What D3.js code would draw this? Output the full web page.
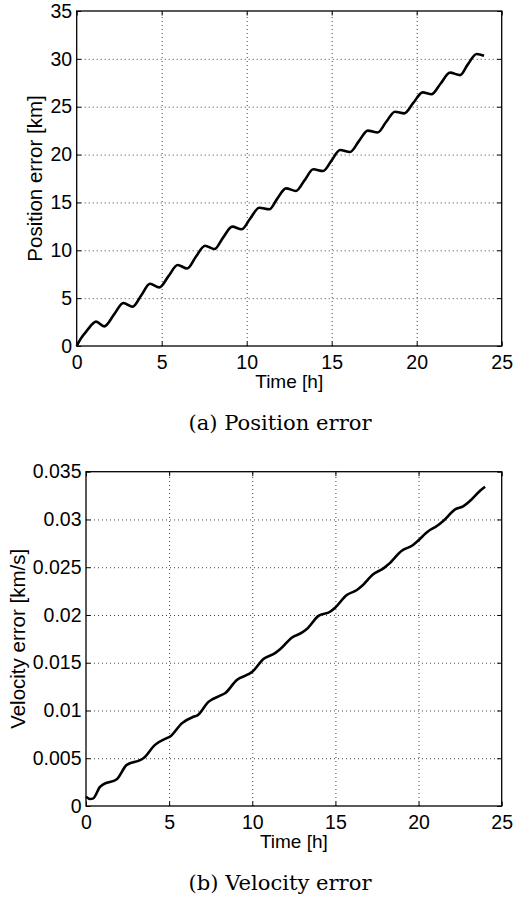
<!DOCTYPE html>
<meta charset="utf-8">
<head>
  <style>
    body { margin: 0; background: #fff; }
    .tick text { font-family: "Liberation Sans", Arial, sans-serif; font-size: 19.5px; fill: #000; }
  </style>
  <script src="https://cdn.jsdelivr.net/npm/d3@7"></script>
</head>
<body>
<script>
  // x ticks shared by both panels
  const xTicks = [0, 5, 10, 15, 20, 25];

  // (a) position error, km
  const posTime = [0, 0.25, 0.6, 1.14, 1.62, 2.2, 2.74, 3.29, 3.8, 4.31, 4.86, 5.4, 5.94, 6.5, 7.0, 7.55, 8.1, 8.6,
    9.15, 9.7, 10.2, 10.74, 11.33, 11.8, 12.31, 12.9, 13.4, 13.92, 14.5, 15.0, 15.49, 16.08, 16.6, 17.12, 17.7,
    18.2, 18.72, 19.26, 19.8, 20.35, 20.87, 21.4, 21.96, 22.55, 23.0, 23.53, 23.96];
  const posErr = [0, 0.8, 1.6, 2.55, 2.05, 3.3, 4.5, 4.1, 5.3, 6.5, 6.13, 7.3, 8.46, 8.1, 9.3, 10.48, 10.13, 11.3,
    12.47, 12.19, 13.3, 14.45, 14.28, 15.4, 16.47, 16.2, 17.3, 18.46, 18.28, 19.4, 20.48, 20.27, 21.4, 22.5, 22.3,
    23.4, 24.48, 24.3, 25.4, 26.5, 26.3, 27.4, 28.56, 28.3, 29.4, 30.5, 30.33];
  const posTicks = [0, 5, 10, 15, 20, 25, 30, 35];

  // (b) velocity error, km/s
  const velTime = [0, 0.24, 0.44, 0.84, 1.04, 1.85, 2.45, 3.25, 3.45, 4.15, 4.85, 5.05, 5.76, 6.46, 6.7, 7.36, 8.06,
    8.36, 9.07, 9.77, 10.0, 10.67, 11.37, 11.67, 12.37, 12.98, 13.28, 13.98, 14.68, 14.98, 15.68, 16.29, 16.59,
    17.29, 17.89, 18.19, 18.99, 19.6, 19.9, 20.6, 21.1, 21.5, 22.2, 22.7, 23.1, 23.7, 24.0];
  const velErr = [0.00098, 0.00073, 0.0008, 0.002, 0.00227, 0.0028, 0.0043, 0.0048, 0.005, 0.0064, 0.0071, 0.00726,
    0.00865, 0.00935, 0.0095, 0.0109, 0.01155, 0.0118, 0.0132, 0.0138, 0.01406, 0.01539, 0.016, 0.0164, 0.01762,
    0.01815, 0.01853, 0.0199, 0.02034, 0.02076, 0.02209, 0.02261, 0.02303, 0.02429, 0.02488, 0.0253, 0.02673,
    0.02725, 0.02767, 0.02879, 0.02931, 0.02987, 0.03106, 0.0314, 0.03196, 0.03301, 0.03343];
  const velTicks = [0, 0.005, 0.01, 0.015, 0.02, 0.025, 0.03, 0.035];

  const svg = d3.select("body").append("svg")
    .attr("width", 513)
    .attr("height", 901)
    .style("background", "#fff");

  function panel(o) {
    const x = d3.scaleLinear().domain([0, 25]).range([o.left, o.right]);
    const y = d3.scaleLinear().domain([0, o.yMax]).range([o.bottom, o.top]);
    const g = svg.append("g");
    const w = o.right - o.left, h = o.bottom - o.top;

    // dotted grid
    g.append("g")
      .attr("transform", `translate(0,${o.bottom})`)
      .call(d3.axisBottom(x).tickValues(xTicks.slice(1, -1)).tickSize(-h).tickFormat(""))
      .call(a => a.select(".domain").remove());
    g.append("g")
      .attr("transform", `translate(${o.left},0)`)
      .call(d3.axisLeft(y).tickValues(o.yTicks.slice(1, -1)).tickSize(-w).tickFormat(""))
      .call(a => a.select(".domain").remove());
    g.selectAll(".tick line")
      .attr("stroke", "#444")
      .attr("stroke-dasharray", "1,3");

    // inward ticks on all four sides + labels
    const tk = 4.5;
    g.append("g").attr("transform", `translate(0,${o.bottom})`)
      .call(d3.axisBottom(x).tickValues(xTicks).tickSize(-tk).tickFormat(d3.format("d")))
      .call(a => a.select(".domain").remove())
      .call(a => a.selectAll("text").attr("dy", "0.71em").attr("y", 9));
    g.append("g").attr("transform", `translate(0,${o.top})`)
      .call(d3.axisTop(x).tickValues(xTicks).tickSize(-tk).tickFormat(""))
      .call(a => a.select(".domain").remove());
    g.append("g").attr("transform", `translate(${o.left},0)`)
      .call(d3.axisLeft(y).tickValues(o.yTicks).tickSize(-tk).tickFormat(o.fmt))
      .call(a => a.select(".domain").remove())
      .call(a => a.selectAll("text").attr("x", -4.5));
    g.append("g").attr("transform", `translate(${o.right},0)`)
      .call(d3.axisRight(y).tickValues(o.yTicks).tickSize(-tk).tickFormat(""))
      .call(a => a.select(".domain").remove());
    g.selectAll(".tick line:not([stroke-dasharray])").attr("stroke", "#000");

    g.append("rect")
      .attr("x", o.left).attr("y", o.top)
      .attr("width", w).attr("height", h)
      .attr("fill", "none").attr("stroke", "#000").attr("stroke-width", 1.3);

    const line = d3.line()
      .x((d, i) => x(o.t[i]))
      .y(d => y(d))
      .curve(d3.curveMonotoneX);
    g.append("path")
      .attr("d", line(o.v))
      .attr("fill", "none")
      .attr("stroke", "#000")
      .attr("stroke-width", 2.6)
      .attr("stroke-linejoin", "round");

    g.append("text")
      .attr("x", (o.left + o.right) / 2)
      .attr("y", o.bottom + 42)
      .attr("text-anchor", "middle")
      .style("font-family", "Liberation Sans, Arial, sans-serif")
      .style("font-size", "19px")
      .text("Time [h]");

    g.append("text")
      .attr("transform", `translate(${o.ylabX},${(o.top + o.bottom) / 2}) rotate(-90)`)
      .attr("text-anchor", "middle")
      .style("font-family", "Liberation Sans, Arial, sans-serif")
      .style("font-size", "20.5px")
      .text(o.ylab);

    g.append("text")
      .attr("x", 280)
      .attr("y", o.bottom + 84)
      .attr("text-anchor", "middle")
      .attr("textLength", 183)
      .attr("lengthAdjust", "spacingAndGlyphs")
      .style("font-family", "DejaVu Serif, serif")
      .style("font-size", "19.5px")
      .text(o.caption);
  }

  panel({
    left: 76.7, right: 501.7, top: 11, bottom: 346,
    yMax: 35, yTicks: posTicks, fmt: d3.format("d"),
    t: posTime, v: posErr,
    ylab: "Position error [km]", ylabX: 42,
    caption: "(a) Position error"
  });

  panel({
    left: 86, right: 501.7, top: 471.7, bottom: 806,
    yMax: 0.035, yTicks: velTicks, fmt: d => d === 0 ? "0" : d3.format(".3~f")(d),
    t: velTime, v: velErr,
    ylab: "Velocity error [km/s]", ylabX: 25,
    caption: "(b) Velocity error"
  });
</script>
</body>
</html>
